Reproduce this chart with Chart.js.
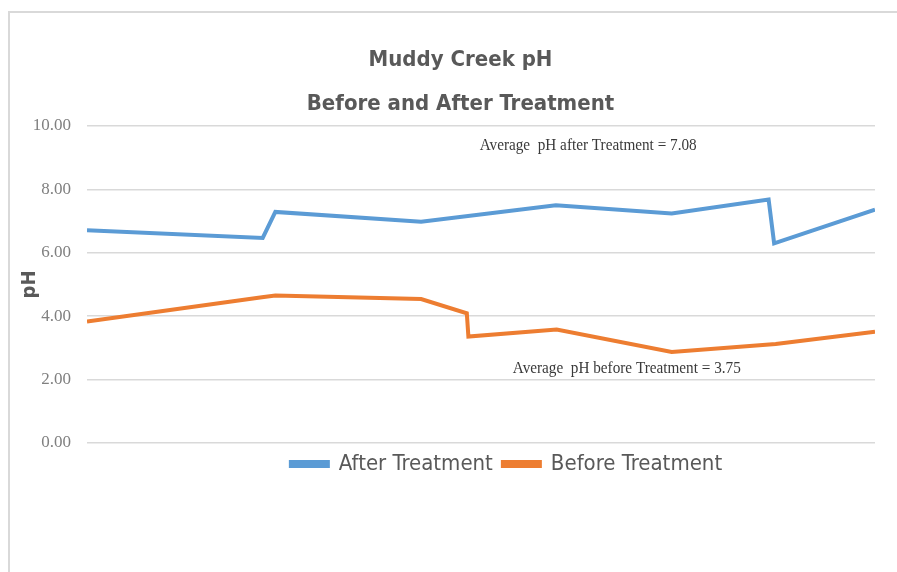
<!DOCTYPE html>
<html>
<head>
<meta charset="utf-8">
<script src="https://cdn.jsdelivr.net/npm/chart.js@4/dist/chart.umd.min.js"></script>
<style>
  html, body { margin: 0; padding: 0; background: #ffffff; }
  #wrap { position: relative; width: 897px; height: 572px; }
</style>
</head>
<body>
<div id="wrap"><canvas id="c" width="897" height="572"></canvas></div>
<script>
// ---- data ----
const titleLines = ['Muddy Creek pH', 'Before and After Treatment'];
const yAxisTitle = 'pH';
const yTicks = [0, 2, 4, 6, 8, 10];

// sampling positions along the (unlabelled) horizontal axis, 0..100
const afterX  = [0, 22.3, 23.9, 42.4, 59.5, 74.2, 86.5, 87.2, 100];
const afterPH = [6.71, 6.47, 7.29, 6.98, 7.50, 7.24, 7.68, 6.30, 7.36];

const beforeX  = [0, 22.2, 23.9, 42.4, 48.2, 48.4, 59.6, 74.2, 87.4, 100];
const beforePH = [3.83, 4.60, 4.65, 4.54, 4.09, 3.36, 3.58, 2.87, 3.12, 3.51];

const seriesNames = ['After Treatment', 'Before Treatment'];
const notes = [
  { text: 'Average  pH after Treatment = 7.08', x: 63.6, y: 9.39, width: 217 },
  { text: 'Average  pH before Treatment = 3.75', x: 68.5, y: 2.34, width: 228 }
];

const toPoints = (xs, ys) => xs.map((x, i) => ({ x: x, y: ys[i] }));

const BLUE = '#5b9bd5';
const ORANGE = '#ed7d31';
const GREY = '#595959';
const SANS = '"Liberation Sans Narrow", "DejaVu Sans Condensed", sans-serif';
const SERIF = '"Liberation Serif", "DejaVu Serif", serif';

const framePlugin = {
  id: 'frame',
  beforeDraw(chart) {
    const ctx = chart.ctx;
    ctx.save();
    ctx.fillStyle = '#ffffff';
    ctx.fillRect(0, 0, chart.width, chart.height);
    ctx.strokeStyle = '#d9d9d9';
    ctx.lineWidth = 2;
    ctx.beginPath();
    ctx.moveTo(9, chart.height);
    ctx.lineTo(9, 12);
    ctx.lineTo(chart.width, 12);
    ctx.stroke();
    ctx.restore();
  }
};

const blockShift = {
  id: 'blockShift',
  afterLayout(chart) {
    if (chart.legend) {
      chart.legend.left += 64;
      chart.legend.right += 64;
    }
    if (chart.titleBlock) {
      chart.titleBlock.left += 18;
      chart.titleBlock.right += 18;
    }
  }
};

const notesPlugin = {
  id: 'notes',
  afterDatasetsDraw(chart) {
    const ctx = chart.ctx;
    const xs = chart.scales.x, ys = chart.scales.y;
    ctx.save();
    ctx.font = '17px ' + SERIF;
    ctx.fillStyle = '#3a3a3a';
    ctx.textBaseline = 'middle';
    ctx.textAlign = 'center';
    notes.forEach(n => {
      const px = xs.getPixelForValue(n.x);
      const py = ys.getPixelForValue(n.y);
      const w = ctx.measureText(n.text).width;
      const sx = n.width / w;
      ctx.save();
      ctx.translate(px, py);
      ctx.scale(sx, 1);
      ctx.fillText(n.text, 0, 0);
      ctx.restore();
    });
    ctx.restore();
  }
};

new Chart(document.getElementById('c'), {
  type: 'line',
  data: {
    datasets: [
      {
        label: seriesNames[0],
        data: toPoints(afterX, afterPH),
        borderColor: BLUE,
        backgroundColor: BLUE,
        borderWidth: 4,
        pointRadius: 0,
        tension: 0,
        fill: false
      },
      {
        label: seriesNames[1],
        data: toPoints(beforeX, beforePH),
        borderColor: ORANGE,
        backgroundColor: ORANGE,
        borderWidth: 4,
        pointRadius: 0,
        tension: 0,
        fill: false
      }
    ]
  },
  options: {
    responsive: false,
    animation: false,
    devicePixelRatio: 1,
    layout: { padding: { left: 10, right: 22, top: 0, bottom: 87 } },
    plugins: {
      title: {
        display: true,
        text: titleLines,
        color: GREY,
        font: { family: SANS, size: 22, weight: 'bold', lineHeight: 2 },
        padding: { top: 38, bottom: 0 }
      },
      legend: {
        display: true,
        position: 'bottom',
        labels: {
          color: GREY,
          font: { family: SANS, size: 22 },
          boxWidth: 37,
          boxHeight: 4,
          padding: 10
        }
      },
      tooltip: { enabled: false }
    },
    scales: {
      x: {
        type: 'linear',
        display: false,
        min: 0,
        max: 100
      },
      y: {
        min: 0,
        max: 10,
        afterBuildTicks(scale) { scale.ticks = yTicks.map(v => ({ value: v })); },
        afterFit(scale) { scale.width = 77; },
        border: { display: false },
        grid: { color: '#d9d9d9', lineWidth: 1.5, drawTicks: false },
        ticks: {
          padding: 16,
          color: '#808080',
          font: { family: SERIF, size: 17 },
          callback: v => Number(v).toFixed(2)
        },
        title: {
          display: true,
          text: yAxisTitle,
          color: GREY,
          font: { family: SANS, size: 20, weight: 'bold', lineHeight: 1.2 },
          padding: { top: 8, bottom: 0 }
        }
      }
    }
  },
  plugins: [framePlugin, blockShift, notesPlugin]
});
</script>
</body>
</html>
